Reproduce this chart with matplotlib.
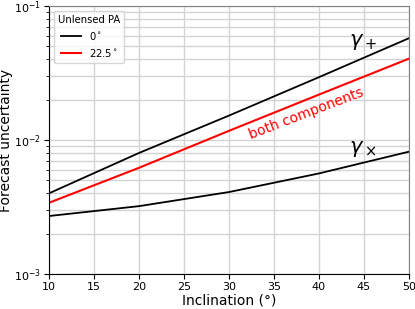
import numpy as np
import matplotlib.pyplot as plt

inclination = [10, 20, 30, 40, 50]
gamma_plus = [0.0040, 0.0080, 0.0152, 0.0294, 0.0574]
both_components = [0.0034, 0.0062, 0.0117, 0.0218, 0.0404]
gamma_cross = [0.00271, 0.00321, 0.00409, 0.00563, 0.00818]

fig = plt.figure(figsize=(4.15, 3.09), dpi=100)
ax = fig.add_axes([0.118, 0.113, 0.8675, 0.868])

ax.plot(inclination, gamma_plus, color='black', lw=1.3, label='0$^\\circ$')
ax.plot(inclination, both_components, color='red', lw=1.5, label='22.5$^\\circ$')
ax.plot(inclination, gamma_cross, color='black', lw=1.3)

ax.set_yscale('log')
ax.set_xlim(10, 50)
ax.set_ylim(1e-3, 1e-1)
ax.grid(True, which='both', color='#d3d3d3', lw=1.0)
ax.set_axisbelow(True)

ax.text(44.9, 0.054, '$\\gamma_+$', fontsize=15, ha='center', va='center')
ax.text(44.9, 0.0085, '$\\gamma_\\times$', fontsize=15, ha='center', va='center')
ax.text(38.6, 0.0157, 'both components', color='red', fontsize=10,
        rotation=21, ha='center', va='center')

ax.tick_params(labelsize=8, pad=2)
ax.set_xlabel('Inclination (°)', fontsize=10, labelpad=1)
ax.set_ylabel('Forecast uncertainty', fontsize=10, labelpad=1)
for s in ['top', 'right']:
    ax.spines[s].set_color('#808080')

leg = ax.legend(title='Unlensed PA', loc='upper left', fontsize=7.2, title_fontsize=7.2)

fig.savefig('out.png', dpi=100)
